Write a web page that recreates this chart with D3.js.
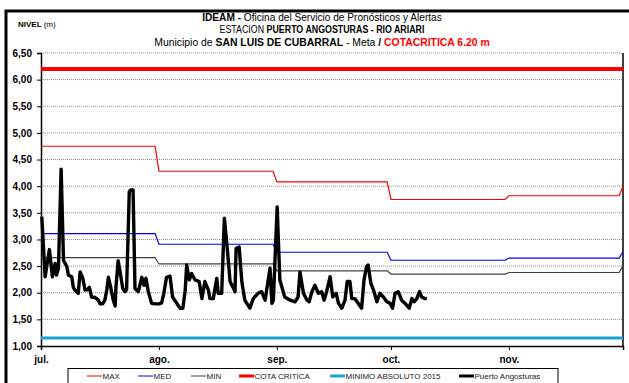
<!DOCTYPE html>
<meta charset="utf-8">
<style>
body { margin: 0; background: #fff; }
text { font-family: "Liberation Sans", Arial, sans-serif; fill: #000; }
.grid line { stroke: #8c8c8c; stroke-dasharray: 1,1; }
.axis text { font-weight: bold; font-size: 10px; }
.legend text { font-size: 8px; fill: #222; }
</style>
<body>
<script src="https://cdnjs.cloudflare.com/ajax/libs/d3/7.8.5/d3.min.js"></script>
<script>

var width = 629,
    height = 383;

// monthly reference levels (value holds for the whole month)
var months = ["2015-07-01", "2015-08-01", "2015-09-01", "2015-10-01", "2015-11-01", "2015-12-01"];
var monthLabels = ["jul.", "ago.", "sep.", "oct.", "nov."];
var maxLevel = [4.75, 4.28, 4.08, 3.75, 3.82, 4.00];
var medLevel = [3.11, 2.91, 2.76, 2.61, 2.65, 2.77];
var minLevel = [2.66, 2.54, 2.41, 2.35, 2.38, 2.51];
var cotaCritica = 6.20;
var minimoAbsoluto = 1.15;
var yTicks = [1, 1.5, 2, 2.5, 3, 3.5, 4, 4.5, 5, 5.5, 6, 6.5];

// Puerto Angosturas readings: days after 1 Jul 2015, level (m)
var obsDays = [0.2, 1.1, 2.2, 3.0, 3.7, 4.1, 4.6, 5.3, 5.9, 6.8, 7.2, 8.1, 8.5, 8.9, 9.8, 10.3,
  11.0, 11.6, 12.2, 12.7, 13.3, 14.2, 15.1, 15.5, 16.2, 16.8, 17.3, 17.7, 18.3, 19.0, 19.5,
  19.7, 20.3, 21.0, 21.5, 22.1, 22.5, 23.2, 23.6, 24.2, 24.7, 25.6, 26.5, 27.1, 27.6, 28.2,
  29.1, 30.0, 31.1, 31.7, 32.3, 33.0, 33.9, 34.6, 35.7, 36.5, 37.3, 37.9, 38.3, 39.0, 39.6,
  40.5, 41.6, 42.3, 43.1, 44.0, 44.4, 45.3, 46.2, 46.6, 47.5, 48.2, 49.0, 49.7, 50.4, 51.0,
  51.3, 52.1, 52.8, 53.6, 54.9, 55.8, 57.1, 58.0, 58.9, 60.2, 60.7, 61.1, 62.1, 62.8, 64.1,
  65.5, 66.8, 67.6, 68.1, 69.0, 69.9, 70.5, 71.2, 72.0, 72.9, 73.8, 74.4, 75.1, 76.0, 76.7,
  77.6, 78.2, 79.1, 79.9, 80.5, 81.2, 81.7, 82.5, 83.4, 84.3, 84.9, 85.6, 86.0, 86.7, 87.4,
  88.3, 89.1, 90.0, 90.9, 91.8, 92.4, 93.1, 93.9, 94.8, 95.7, 96.8, 97.5, 98.1, 98.8, 99.5,
  100.1, 101.0, 101.4];
var obsLevel = [3.43, 2.30, 2.81, 2.30, 2.55, 2.33, 2.46, 4.32, 2.61, 2.49, 2.33, 2.30, 2.10, 2.05, 1.99, 2.39,
  2.27, 2.05, 2.06, 2.10, 1.92, 1.91, 1.86, 1.79, 1.79, 1.86, 2.05, 2.29, 2.11, 1.86, 1.75,
  2.11, 2.60, 2.30, 2.08, 2.02, 2.06, 3.90, 3.93, 3.93, 2.08, 2.02, 2.29, 2.14, 2.27, 2.02,
  1.80, 1.79, 1.79, 1.81, 1.99, 2.29, 2.31, 1.92, 1.80, 1.71, 1.71, 2.05, 2.52, 2.24, 2.36,
  2.24, 2.21, 1.89, 2.21, 2.05, 1.89, 1.89, 2.27, 1.99, 1.99, 3.40, 2.80, 2.21, 2.11, 2.02,
  2.83, 2.86, 2.21, 1.86, 1.71, 1.89, 1.99, 2.02, 1.86, 2.46, 1.80, 1.86, 3.61, 2.24, 1.92,
  1.86, 1.83, 1.92, 2.39, 1.99, 1.86, 1.83, 2.02, 2.14, 1.99, 2.02, 1.86, 2.02, 2.30, 1.92,
  1.99, 1.80, 1.71, 1.86, 2.21, 2.21, 1.89, 1.89, 1.80, 1.71, 2.24, 2.49, 2.52, 2.18, 2.05,
  1.83, 1.99, 1.92, 1.83, 1.80, 1.71, 1.99, 2.02, 1.86, 1.80, 1.71, 1.89, 1.83, 1.89, 2.02,
  1.92, 1.89, 1.89];

var parse = d3.timeParse("%Y-%m-%d");
var monthDates = months.map(parse);
var start = monthDates[0];

var plot = {left: 41, right: 623, top: 53, bottom: 346};

var x = d3.scaleTime()
    .domain([monthDates[0], monthDates[monthDates.length - 1]])
    .range([plot.left, plot.right]);

var y = d3.scaleLinear()
    .domain([1, 6.5])
    .range([plot.bottom, plot.top]);

var svg = d3.select("body").append("svg")
    .attr("width", width)
    .attr("height", height);

// outer frame (left + top edge of the sheet border)
svg.append("path")
    .attr("d", "M6,383V11H629")
    .attr("fill", "none")
    .attr("stroke", "#000")
    .attr("stroke-width", 3);

// title
var title = svg.append("g").attr("class", "title");
var t1 = title.append("text").attr("x", 322).attr("y", 21).attr("text-anchor", "middle").style("font-size", "10px");
t1.append("tspan").style("font-weight", "bold").text("IDEAM - ");
t1.append("tspan").text("Oficina del Servicio de Pronósticos y Alertas");
var t2 = title.append("text").attr("x", 322).attr("y", 33).attr("text-anchor", "middle").style("font-size", "10px");
t2.append("tspan").text("ESTACION ");
t2.append("tspan").style("font-weight", "bold").text("PUERTO ANGOSTURAS - RIO ARIARI");
var t3 = title.append("text").attr("x", 322).attr("y", 46).attr("text-anchor", "middle").style("font-size", "10px");
t3.append("tspan").text("Municipio de ");
t3.append("tspan").style("font-weight", "bold").text("SAN LUIS DE CUBARRAL");
t3.append("tspan").text(" - Meta  ");
t3.append("tspan").style("font-weight", "bold").text("/  ");
t3.append("tspan").style("font-weight", "bold").style("fill", "#ff0000").text("COTACRITICA 6.20 m");

// squeeze title lines to the narrow face used in the original
[[t1, 240], [t2, 205], [t3, 336]].forEach(function(d) {
  var w = d[0].node().getComputedTextLength();
  var k = d[1] / w;
  var cx = 322;
  d[0].attr("transform", "translate(" + cx + ",0) scale(" + k + ",1) translate(" + (-cx) + ",0)");
});

var nivel = svg.append("text").attr("x", 18).attr("y", 27).style("font-size", "8px");
nivel.append("tspan").style("font-weight", "bold").text("NIVEL ");
nivel.append("tspan").text("(m)");

// gridlines
svg.append("g")
    .attr("class", "grid")
    .selectAll("line")
    .data(yTicks.slice(1))
  .enter().append("line")
    .attr("x1", plot.left)
    .attr("x2", plot.right)
    .attr("y1", function(d) { return y(d); })
    .attr("y2", function(d) { return y(d); });

// right border
svg.append("line")
    .attr("x1", plot.right).attr("x2", plot.right)
    .attr("y1", plot.top).attr("y2", plot.bottom)
    .attr("stroke", "#000").attr("stroke-width", 1.5);

// y axis
var yAxis = svg.append("g")
    .attr("class", "axis")
    .attr("transform", "translate(" + plot.left + ",0)")
    .call(d3.axisLeft(y).tickValues(yTicks).tickSize(4).tickPadding(5)
      .tickFormat(function(d) { return d3.format(".2f")(d).replace(".", ","); }));
yAxis.select(".domain").attr("stroke-width", 1.5);

// x axis
var xAxis = svg.append("g")
    .attr("class", "axis")
    .attr("transform", "translate(0," + plot.bottom + ")")
    .call(d3.axisBottom(x).tickValues(monthDates.slice(0, 5)).tickSize(4).tickPadding(6)
      .tickFormat(function(d, i) { return monthLabels[i]; }));
xAxis.select(".domain").attr("stroke-width", 1.5);

// step series from monthly values
function steps(values) {
  var pts = [];
  values.forEach(function(v, i) {
    pts.push([monthDates[i], v]);
    if (i < values.length - 1) pts.push([d3.timeDay.offset(monthDates[i + 1], -1), v]);
  });
  return pts;
}

var line = d3.line()
    .x(function(d) { return x(d[0]); })
    .y(function(d) { return y(d[1]); });

var ends = [monthDates[0], monthDates[monthDates.length - 1]];

svg.append("path")
    .datum(ends.map(function(d) { return [d, minimoAbsoluto]; }))
    .attr("d", line).attr("fill", "none")
    .attr("stroke", "#1ba1d6").attr("stroke-width", 3);

svg.append("path")
    .datum(ends.map(function(d) { return [d, cotaCritica]; }))
    .attr("d", line).attr("fill", "none")
    .attr("stroke", "#ff0000").attr("stroke-width", 4);

svg.append("path").datum(steps(minLevel))
    .attr("d", line).attr("fill", "none")
    .attr("stroke", "#404040").attr("stroke-width", 1.2);
svg.append("path").datum(steps(medLevel))
    .attr("d", line).attr("fill", "none")
    .attr("stroke", "#0000ff").attr("stroke-width", 1.2);
svg.append("path").datum(steps(maxLevel))
    .attr("d", line).attr("fill", "none")
    .attr("stroke", "#ff0000").attr("stroke-width", 1.2);

svg.append("path")
    .datum(obsDays.map(function(d, i) { return [d3.timeHour.offset(start, Math.round(d * 24)), obsLevel[i]]; }))
    .attr("d", line).attr("fill", "none")
    .attr("stroke", "#000").attr("stroke-width", 3.4)
    .attr("stroke-linejoin", "round");

// legend
var legendItems = [
  {name: "MAX", color: "#ff0000", w: 1, x: 87},
  {name: "MED", color: "#0000ff", w: 1, x: 138},
  {name: "MIN", color: "#404040", w: 1, x: 191},
  {name: "COTA CRITICA", color: "#ff0000", w: 3, x: 239},
  {name: "MINIMO ABSOLUTO 2015", color: "#1ba1d6", w: 3, x: 330},
  {name: "Puerto Angosturas", color: "#000", w: 3, x: 459}
];

var legend = svg.append("g").attr("class", "legend");
legend.append("rect")
    .attr("x", 68).attr("y", 368.5).attr("width", 490).attr("height", 30)
    .attr("fill", "#fff").attr("stroke", "#000");

var item = legend.selectAll(".item")
    .data(legendItems)
  .enter().append("g")
    .attr("transform", function(d) { return "translate(" + d.x + ",376)"; });
item.append("line")
    .attr("x1", 0).attr("x2", 15)
    .attr("stroke", function(d) { return d.color; })
    .attr("stroke-width", function(d) { return d.w; });
item.append("text")
    .attr("x", 15.5).attr("dy", "0.35em")
    .text(function(d) { return d.name; });

</script>
